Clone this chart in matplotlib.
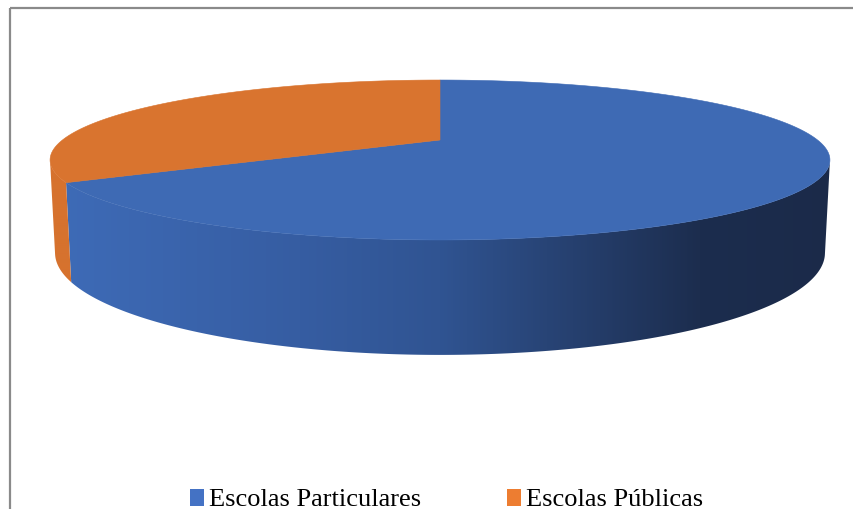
import numpy as np
import matplotlib
matplotlib.use("Agg")
import matplotlib.pyplot as plt
from matplotlib.patches import Polygon, Rectangle

# ---- data ----
categories = ["Escolas Particulares", "Escolas Públicas"]
values = [66.7, 33.3]
top_colors = ["#3E6AB4", "#D9742F"]
legend_colors = ["#4472C4", "#ED7D31"]

# side shading stops (screen x in px -> rgb) for each slice
side_stops = {
    0: ([60, 300, 440, 600, 700, 840],
        [(62, 107, 183), (54, 93, 162), (48, 84, 146), (36, 60, 104), (28, 45, 78), (27, 42, 73)]),
    1: ([0, 859], [(214, 114, 46), (214, 114, 46)]),
}

W, H = 859, 509
fig = plt.figure(figsize=(W / 100, H / 100), dpi=100)
ax = fig.add_axes([0, 0, 1, 1])

# ---- simple pinhole camera for the 3-D pie ----
cx, cy = 440.0, 140.0       # projected pie centre (px)
f = 1480.0                  # focal length (px)
D = 3.92                    # camera distance (pie radius = 1)
sa = 0.1986                 # sin(elevation)
ca = np.sqrt(1 - sa ** 2)
thick = 0.24                # pie thickness


def project(theta, z):
    x = np.sin(theta)
    y = np.cos(theta)
    depth = D + y * ca - z * sa
    X = f * x / depth
    Y = f * (y * sa + z * ca) / depth
    return cx + X, cy - Y


fracs = np.array(values) / np.sum(values)
bounds = np.concatenate([[0], np.cumsum(fracs)]) * 2 * np.pi

# visible part of the cylinder wall (between the two silhouette generators)
c_sil = -1.0 / (D * ca)
t_lo = np.arccos(c_sil)
t_hi = 2 * np.pi - t_lo

xcols = np.arange(W) + 0.5


def gradient_row(i):
    xs, cols = side_stops[i]
    cols = np.array(cols) / 255.0
    return np.stack([np.interp(xcols, xs, cols[:, k]) for k in range(3)], axis=-1)


# cylinder wall: one clipped horizontal gradient per slice
for i in range(len(values)):
    a0 = max(bounds[i], t_lo)
    a1 = min(bounds[i + 1], t_hi)
    if a1 <= a0:
        continue
    th = np.linspace(a0, a1, 500)
    xt, yt = project(th, 0.0)
    xb, yb = project(th[::-1], -thick)
    pts = list(zip(xt, yt)) + list(zip(xb, yb))
    wall = Polygon(pts, closed=True, facecolor="none", edgecolor="none")
    ax.add_patch(wall)
    img = gradient_row(i)[np.newaxis, :, :].repeat(2, axis=0)
    im = ax.imshow(img, extent=[0, W, H, 0], aspect="auto",
                   interpolation="bilinear", zorder=1)
    im.set_clip_path(wall)

# top face
for i in range(len(values)):
    th = np.linspace(bounds[i], bounds[i + 1], 400)
    xt, yt = project(th, 0.0)
    pts = [(cx, cy)] + list(zip(xt, yt))
    ax.add_patch(Polygon(pts, closed=True, facecolor=top_colors[i],
                         edgecolor=top_colors[i], linewidth=0.4, zorder=2))

ax.set_xlim(0, W)
ax.set_ylim(H, 0)
ax.axis("off")

# ---- chart frame ----
frame_col = "#8A8A8A"
ax.plot([9.5, 9.5], [7.5, H], color=frame_col, lw=1.6, solid_capstyle="butt")
ax.plot([9.5, 853], [7.5, 7.5], color=frame_col, lw=1.6, solid_capstyle="butt")

# ---- legend ----
leg_x = [190, 507]
for i, name in enumerate(categories):
    ax.add_patch(Rectangle((leg_x[i], 489), 13.5, 17, facecolor=legend_colors[i],
                           edgecolor="none", zorder=3))
    ax.text(leg_x[i] + 19, 505.5, name, family="Liberation Serif", fontsize=19,
            color="black", va="baseline", ha="left", zorder=3)

fig.savefig("out.png", dpi=100)
